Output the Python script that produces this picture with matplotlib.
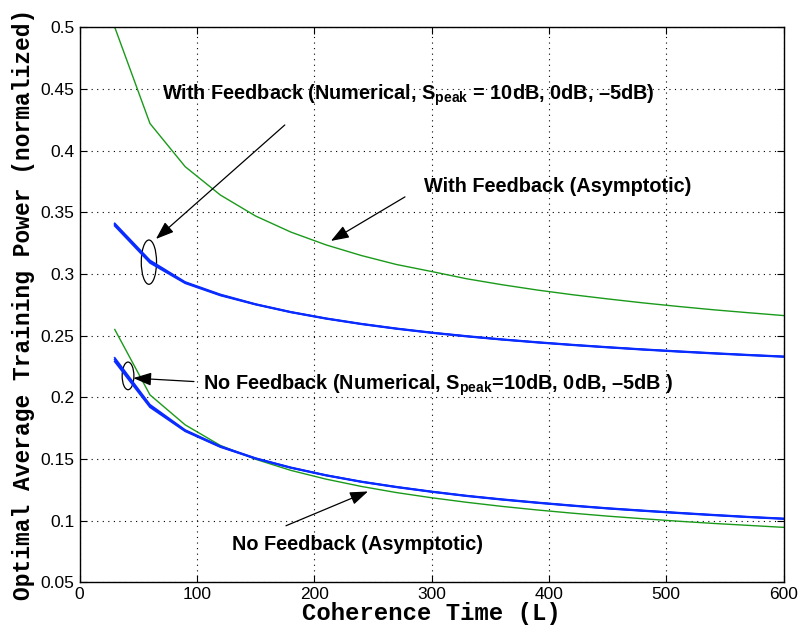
import matplotlib
matplotlib.use("Agg")
import matplotlib.pyplot as plt
from matplotlib.patches import Ellipse
from matplotlib.ticker import FuncFormatter

# ---- data ----
L = [30, 60, 90, 120, 150, 180, 210, 240, 270, 300, 330, 360, 390, 420, 450,
     480, 510, 540, 570, 600]

fb_asym = [0.500, 0.422, 0.387, 0.364, 0.347, 0.334, 0.3236, 0.315, 0.3077, 0.302,
           0.2961, 0.2913, 0.287, 0.2832, 0.2798, 0.2766, 0.2737, 0.271, 0.2686, 0.2663]

fb_num_10 = [0.341, 0.311, 0.2935, 0.2834, 0.2756, 0.2693, 0.2641, 0.2597, 0.2559, 0.2526,
             0.2497, 0.2471, 0.2448, 0.2427, 0.2408, 0.239, 0.2374, 0.2359, 0.2345, 0.2332]
fb_num_0 = [0.340, 0.310, 0.293, 0.283, 0.2754, 0.2691, 0.2639, 0.2595, 0.2557, 0.2524,
            0.2495, 0.2469, 0.2446, 0.2425, 0.2406, 0.2388, 0.2372, 0.2357, 0.2343, 0.233]
fb_num_m5 = [0.339, 0.309, 0.2925, 0.2826, 0.2752, 0.2689, 0.2637, 0.2593, 0.2555, 0.2522,
             0.2493, 0.2467, 0.2444, 0.2423, 0.2404, 0.2386, 0.237, 0.2355, 0.2341, 0.2328]

nofb_asym = [0.255, 0.202, 0.1777, 0.161, 0.1498, 0.1408, 0.1337, 0.1278, 0.1228, 0.1186,
             0.1149, 0.1116, 0.1087, 0.1061, 0.1037, 0.1016, 0.0996, 0.0978, 0.0962, 0.0946]

nofb_num_10 = [0.232, 0.194, 0.1735, 0.1604, 0.1507, 0.1432, 0.137, 0.1318, 0.1275, 0.1237,
               0.1203, 0.1174, 0.1148, 0.1124, 0.1102, 0.1083, 0.1065, 0.1048, 0.1032, 0.1018]
nofb_num_0 = [0.2305, 0.193, 0.173, 0.160, 0.1505, 0.143, 0.1368, 0.1316, 0.1273, 0.1235,
              0.1201, 0.1172, 0.1146, 0.1122, 0.11, 0.1081, 0.1063, 0.1046, 0.103, 0.1016]
nofb_num_m5 = [0.229, 0.192, 0.1725, 0.1597, 0.1503, 0.1428, 0.1366, 0.1314, 0.1271, 0.1233,
               0.1199, 0.117, 0.1144, 0.112, 0.1098, 0.1079, 0.1061, 0.1044, 0.1028, 0.1014]

x_ticks = [0, 100, 200, 300, 400, 500, 600]
y_ticks = [0.05, 0.1, 0.15, 0.2, 0.25, 0.3, 0.35, 0.4, 0.45, 0.5]

plt.rcParams['font.family'] = ['Liberation Sans', 'DejaVu Sans']
plt.rcParams['mathtext.fontset'] = 'custom'
plt.rcParams['mathtext.rm'] = 'Liberation Sans:bold'
plt.rcParams['mathtext.it'] = 'Liberation Sans:bold'
plt.rcParams['mathtext.bf'] = 'Liberation Sans:bold'

fig = plt.figure(figsize=(7.98, 6.30), dpi=100)
ax = fig.add_axes([0.0997, 0.0756, 0.8823, 0.8811])

green = '#1a9a1a'
blue = '#0a2cff'

ax.plot(L, fb_asym, color=green, lw=1.0)
ax.plot(L, nofb_asym, color=green, lw=1.0)
for s in (fb_num_10, fb_num_0, fb_num_m5):
    ax.plot(L, s, color=blue, lw=1.3)
for s in (nofb_num_10, nofb_num_0, nofb_num_m5):
    ax.plot(L, s, color=blue, lw=1.3)

ax.set_xlim(0, 600)
ax.set_ylim(0.05, 0.5)
ax.set_xticks(x_ticks)
ax.set_yticks(y_ticks)
ax.yaxis.set_major_formatter(FuncFormatter(lambda v, p: '%g' % v))
ax.tick_params(direction='in', top=True, right=True, labelsize=12.5, length=5, width=0.8)
ax.grid(True, linestyle=(0, (1, 4)), color='black', linewidth=0.8)
for sp in ax.spines.values():
    sp.set_linewidth(1.0)

ax.set_xlabel('Coherence Time (L)', family='Liberation Mono', fontweight='bold',
              fontsize=17.2, labelpad=0)
ax.set_ylabel('Optimal Average Training Power (normalized)', family='Liberation Mono',
              fontweight='bold', fontsize=16.5, labelpad=4)

tk = dict(fontsize=14.3, fontweight='bold', ha='left', va='center', color='black')
ax.text(70, 0.4451, 'With Feedback (Numerical, S$_{peak}$ = 10dB, 0dB, \u20135dB)', **tk)
ax.text(293.5, 0.3706, 'With Feedback (Asymptotic)', **tk)
ax.text(104.9, 0.2101, 'No Feedback (Numerical, S$_{peak}$=10dB, 0dB, \u20135dB )', **tk)
ax.text(130.1, 0.0805, 'No Feedback (Asymptotic)', **tk)

ap = dict(arrowstyle='-|>,head_length=1.1,head_width=0.4', color='black', lw=0.9,
          shrinkA=0, shrinkB=0)
ax.annotate('', xy=(65.1, 0.3284), xytext=(174.9, 0.4208), arrowprops=ap)
ax.annotate('', xy=(214.2, 0.3268), xytext=(277.3, 0.3625), arrowprops=ap)
ax.annotate('', xy=(45.8, 0.2156), xytext=(97.5, 0.2128), arrowprops=ap)
ax.annotate('', xy=(245.8, 0.1237), xytext=(175.9, 0.0959), arrowprops=ap)

ax.add_patch(Ellipse((59.1, 0.3096), 13.0, 0.0359, fill=False, ec='black', lw=0.9))
ax.add_patch(Ellipse((41.3, 0.2174), 10.0, 0.0224, fill=False, ec='black', lw=0.9))

fig.savefig('out.png', dpi=100)
